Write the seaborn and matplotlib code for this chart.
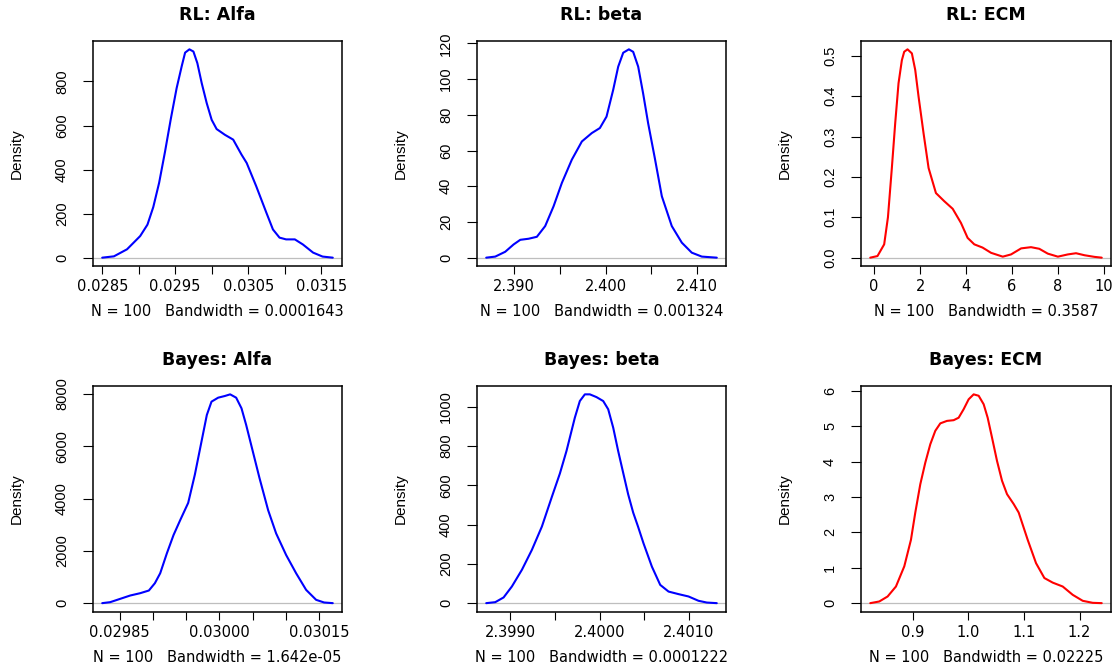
import matplotlib
matplotlib.use("Agg")
import matplotlib.pyplot as plt
import seaborn as sns

# titulos, cores e rotulos de cada painel (densidades de 100 amostras)
titles = ["RL: Alfa", "RL: beta", "RL: ECM", "Bayes: Alfa", "Bayes: beta", "Bayes: ECM"]
colors = ["blue", "blue", "red", "blue", "blue", "red"]
n_obs = 100
bandwidths = ["0.0001643", "0.001324", "0.3587", "1.642e-05", "0.0001222", "0.02225"]

# curvas de densidade
rl_alfa_x = [0.02850, 0.02866, 0.02884, 0.02902, 0.02912, 0.02920, 0.02928, 0.02936,
             0.02944, 0.02952, 0.02959, 0.029636, 0.029695, 0.029750, 0.029804, 0.029864,
             0.029932, 0.030000, 0.030068, 0.030181, 0.030295, 0.030409, 0.03048,
             0.03061, 0.03075, 0.03084, 0.03093, 0.03102, 0.03114, 0.03125, 0.03139,
             0.03152, 0.03166]
rl_alfa_y = [0, 6, 38, 98, 150, 230, 340, 480, 630, 770, 870, 931, 946, 936, 883, 792,
             702, 626, 584, 558, 536, 468, 430, 325, 204, 128, 91, 83, 83, 60, 23, 5, 0]

rl_beta_x = [2.38693, 2.38792, 2.38901, 2.38993, 2.39066, 2.39157, 2.39248, 2.39339,
             2.39431, 2.39522, 2.39631, 2.39741, 2.39850, 2.39938, 2.40011, 2.40084,
             2.40139, 2.40194, 2.40256, 2.40303, 2.40358, 2.40412, 2.40467, 2.40540,
             2.40617, 2.40726, 2.40836, 2.40945, 2.41055, 2.41219]
rl_beta_y = [0, 0.6, 3.3, 7.4, 10.0, 10.6, 11.7, 17.7, 28.8, 41.9, 54.9, 65.1, 69.8, 72.6,
             79.0, 94.0, 107.0, 114.8, 116.7, 115.3, 107.0, 92.0, 75.3, 55.8, 34.4, 17.7,
             8.4, 2.8, 0.6, 0]

rl_ecm_x = [-0.17, 0.145, 0.436, 0.60, 0.77, 0.916, 1.061, 1.206, 1.308, 1.453, 1.642,
            1.788, 1.933, 2.151, 2.37, 2.69, 3.05, 3.42, 3.78, 4.07, 4.36, 4.72, 5.09,
            5.60, 5.96, 6.40, 6.83, 7.19, 7.56, 8.00, 8.43, 8.79, 9.16, 9.59, 9.91]
rl_ecm_y = [0, 0.004, 0.033, 0.10, 0.222, 0.333, 0.432, 0.489, 0.510, 0.516, 0.506, 0.465,
            0.399, 0.308, 0.222, 0.160, 0.140, 0.121, 0.086, 0.049, 0.033, 0.025, 0.012,
            0.0025, 0.008, 0.023, 0.026, 0.022, 0.010, 0.0025, 0.008, 0.011, 0.006,
            0.002, 0]

bayes_alfa_x = [0.029824, 0.029836, 0.029851, 0.029866, 0.029881, 0.029894, 0.029903,
                0.029911, 0.029921, 0.029931, 0.029941, 0.029953, 0.029963, 0.029973,
                0.029981, 0.029988, 0.029998, 0.030008, 0.030016, 0.030025, 0.030033,
                0.030040, 0.030050, 0.030060, 0.030073, 0.030085, 0.030100, 0.030115,
                0.030130, 0.030145, 0.030157, 0.030170]
bayes_alfa_y = [0, 38, 165, 292, 381, 483, 762, 1143, 1905, 2604, 3175, 3835, 4915, 6185,
                7200, 7709, 7861, 7925, 7988, 7861, 7455, 6820, 5804, 4788, 3556, 2667,
                1842, 1143, 508, 127, 25, 0]

bayes_beta_x = [2.398734, 2.398835, 2.398928, 2.399021, 2.399133, 2.399244, 2.399356,
                2.399468, 2.399557, 2.399631, 2.399724, 2.399780, 2.399836, 2.399892,
                2.399966, 2.400041, 2.400097, 2.400153, 2.400208, 2.400264, 2.400320,
                2.400376, 2.400430, 2.400491, 2.400585, 2.400678, 2.400771, 2.400882,
                2.400994, 2.401106, 2.401199, 2.401310]
bayes_beta_y = [0, 5, 29, 85, 170, 271, 390, 542, 660, 775, 944, 1029, 1063, 1063, 1049,
                1029, 987, 893, 775, 664, 554, 461, 390, 305, 186, 93, 59, 46, 34, 12, 3, 0]

bayes_ecm_x = [0.8236, 0.8398, 0.8548, 0.8698, 0.8848, 0.8968, 0.9046, 0.9136, 0.9226,
               0.9316, 0.9406, 0.9496, 0.9616, 0.9736, 0.9826, 0.9916, 1.0006, 1.0096,
               1.0186, 1.0276, 1.0348, 1.0426, 1.0516, 1.0606, 1.0696, 1.0816, 1.0906,
               1.1068, 1.1218, 1.1368, 1.1518, 1.1698, 1.1878, 1.2058, 1.2238, 1.2400]
bayes_ecm_y = [0, 0.047, 0.188, 0.47, 1.04, 1.79, 2.56, 3.36, 3.97, 4.49, 4.87, 5.08, 5.15,
               5.17, 5.24, 5.48, 5.76, 5.90, 5.86, 5.62, 5.24, 4.68, 4.02, 3.46, 3.08, 2.80,
               2.56, 1.79, 1.13, 0.71, 0.58, 0.47, 0.235, 0.066, 0.009, 0]

# marcas dos eixos (R omite alguns rotulos que se sobrepoem)
x_ticks = [
    [0.0285, 0.0290, 0.0295, 0.0300, 0.0305, 0.0310, 0.0315],
    [2.390, 2.395, 2.400, 2.405, 2.410],
    [0, 2, 4, 6, 8, 10],
    [0.02985, 0.02990, 0.02995, 0.03000, 0.03005, 0.03010, 0.03015],
    [2.3990, 2.3995, 2.4000, 2.4005, 2.4010],
    [0.9, 1.0, 1.1, 1.2],
]
x_ticklabels = [
    ["0.0285", "", "0.0295", "", "0.0305", "", "0.0315"],
    ["2.390", "", "2.400", "", "2.410"],
    ["0", "2", "4", "6", "8", "10"],
    ["0.02985", "", "", "0.03000", "", "", "0.03015"],
    ["2.3990", "", "2.4000", "", "2.4010"],
    ["0.9", "1.0", "1.1", "1.2"],
]
y_ticks = [
    [0, 200, 400, 600, 800],
    [0, 20, 40, 60, 80, 100, 120],
    [0.0, 0.1, 0.2, 0.3, 0.4, 0.5],
    [0, 2000, 4000, 6000, 8000],
    [0, 200, 400, 600, 800, 1000],
    [0, 1, 2, 3, 4, 5, 6],
]
y_ticklabels = [
    ["0", "200", "400", "600", "800"],
    ["0", "20", "40", "60", "80", "100", "120"],
    ["0.0", "0.1", "0.2", "0.3", "0.4", "0.5"],
    ["0", "2000", "4000", "6000", "8000"],
    ["0", "200", "400", "600", "800", "1000"],
    ["0", "1", "2", "3", "4", "5", "6"],
]

curves = [(rl_alfa_x, rl_alfa_y), (rl_beta_x, rl_beta_y), (rl_ecm_x, rl_ecm_y),
          (bayes_alfa_x, bayes_alfa_y), (bayes_beta_x, bayes_beta_y), (bayes_ecm_x, bayes_ecm_y)]

sns.set_style("ticks")
plt.rcParams['font.family'] = ['DejaVu Sans']
plt.rcParams['text.color'] = 'black'
plt.rcParams['axes.labelcolor'] = 'black'
narrow = ['Liberation Sans Narrow', 'Liberation Sans', 'DejaVu Sans']

W, H = 1117, 668
fig = plt.figure(figsize=(W / 100, H / 100), dpi=100)
fig.patch.set_facecolor("white")

# caixas dos paineis em pixels (esquerda, topo, largura, altura)
col_left = [93, 477, 861]
col_width = [249, 249, 250]
row_top = [41, 386]
row_height = [225, 225.5]

for i, (xs, ys) in enumerate(curves):
    r, c = divmod(i, 3)
    x0, y0 = col_left[c], row_top[r]
    w, h = col_width[c], row_height[r]
    ax = fig.add_axes([x0 / W, 1 - (y0 + h) / H, w / W, h / H])

    ax.axhline(0, color="#BEBEBE", lw=0.9, zorder=1)
    sns.lineplot(x=xs, y=ys, ax=ax, color=colors[i], lw=1.5, sort=False, zorder=2)

    span = max(xs) - min(xs)
    ax.set_xlim(min(xs) - 0.04 * span, max(xs) + 0.04 * span)
    ymax = max(ys)
    ax.set_ylim(-0.04 * ymax, 1.04 * ymax)

    ax.set_xticks(x_ticks[i])
    ax.set_xticklabels(x_ticklabels[i])
    ax.set_yticks(y_ticks[i])
    ax.set_yticklabels(y_ticklabels[i], rotation=90, va="center", family=narrow)

    ax.tick_params(axis="x", length=5.4, width=0.8, pad=4, labelsize=10.5,
                   colors="black")
    ax.tick_params(axis="y", length=7.2, width=0.8, pad=10, labelsize=10.5,
                   colors="black")
    for s in ax.spines.values():
        s.set_visible(True)
        s.set_color("black")
        s.set_linewidth(1.1)

    ax.set_title(titles[i], fontsize=12.5, fontweight="bold", pad=15, color="black")
    ax.set_ylabel("Density", fontsize=11, family=narrow, va="center")
    ax.yaxis.set_label_coords(-76 / w, 0.5)
    ax.set_xlabel(f"N = {n_obs}   Bandwidth = {bandwidths[i]}", fontsize=10.5,
                  va="center")
    ax.xaxis.set_label_coords(0.5, -46 / h)

fig.savefig("out.png", dpi=100)
